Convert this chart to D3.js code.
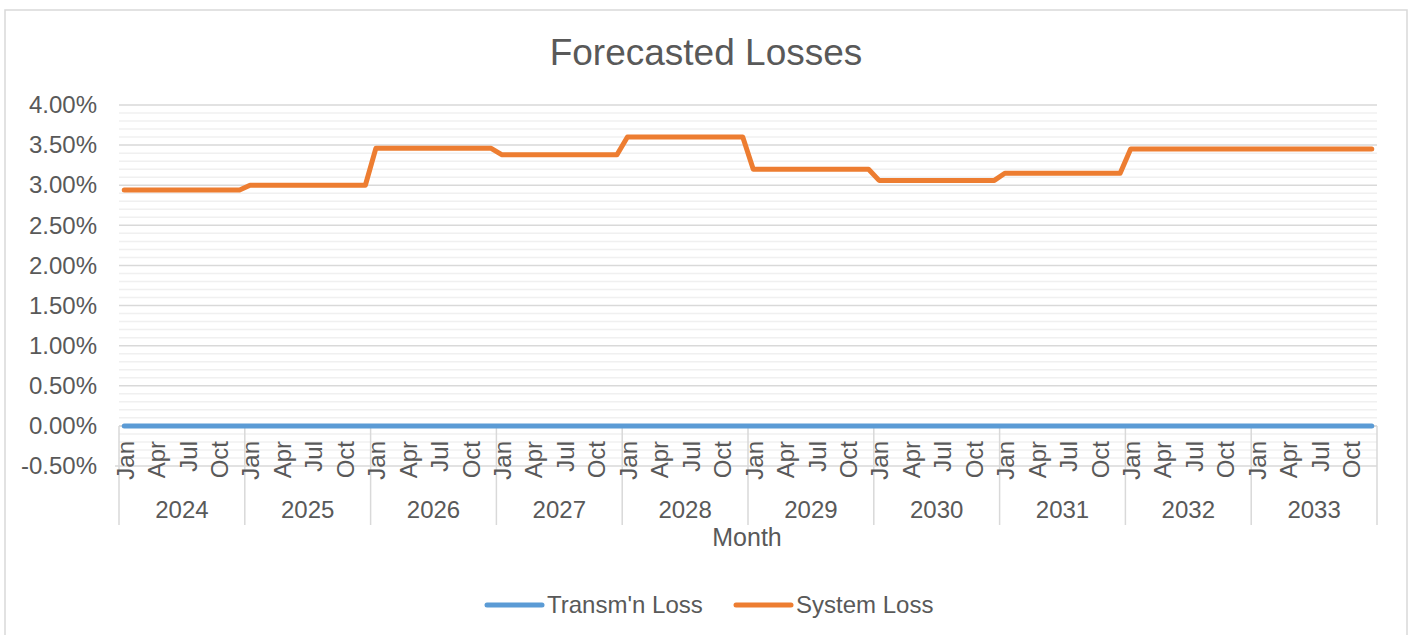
<!DOCTYPE html>
<html>
<head>
<meta charset="utf-8">
<script src="https://cdn.jsdelivr.net/npm/d3@7"></script>
<style>
  body { margin: 0; background: #fff; }
  svg { display: block; font-family: "Liberation Sans", Arial, sans-serif; }
</style>
</head>
<body>
<svg id="chart"></svg>
<script>
// forecasted losses, monthly, 2024 - 2033

var width = 1411,
    height = 635;

var years = [2024, 2025, 2026, 2027, 2028, 2029, 2030, 2031, 2032, 2033];
var months = ["Jan","Feb","Mar","Apr","May","Jun","Jul","Aug","Sep","Oct","Nov","Dec"];
var shownMonths = ["Jan","Apr","Jul","Oct"];
var yTicks = [-0.005, 0, 0.005, 0.01, 0.015, 0.02, 0.025, 0.03, 0.035, 0.04];

// one row per year, one value per month
var transmLoss = [
  [0,0,0,0,0,0,0,0,0,0,0,0],
  [0,0,0,0,0,0,0,0,0,0,0,0],
  [0,0,0,0,0,0,0,0,0,0,0,0],
  [0,0,0,0,0,0,0,0,0,0,0,0],
  [0,0,0,0,0,0,0,0,0,0,0,0],
  [0,0,0,0,0,0,0,0,0,0,0,0],
  [0,0,0,0,0,0,0,0,0,0,0,0],
  [0,0,0,0,0,0,0,0,0,0,0,0],
  [0,0,0,0,0,0,0,0,0,0,0,0],
  [0,0,0,0,0,0,0,0,0,0,0,0]
];
var systemLoss = [
  [.0294,.0294,.0294,.0294,.0294,.0294,.0294,.0294,.0294,.0294,.0294,.0294],
  [.0300,.0300,.0300,.0300,.0300,.0300,.0300,.0300,.0300,.0300,.0300,.0300],
  [.0346,.0346,.0346,.0346,.0346,.0346,.0346,.0346,.0346,.0346,.0346,.0346],
  [.0338,.0338,.0338,.0338,.0338,.0338,.0338,.0338,.0338,.0338,.0338,.0338],
  [.0360,.0360,.0360,.0360,.0360,.0360,.0360,.0360,.0360,.0360,.0360,.0360],
  [.0320,.0320,.0320,.0320,.0320,.0320,.0320,.0320,.0320,.0320,.0320,.0320],
  [.0306,.0306,.0306,.0306,.0306,.0306,.0306,.0306,.0306,.0306,.0306,.0306],
  [.0315,.0315,.0315,.0315,.0315,.0315,.0315,.0315,.0315,.0315,.0315,.0315],
  [.0345,.0345,.0345,.0345,.0345,.0345,.0345,.0345,.0345,.0345,.0345,.0345],
  [.0345,.0345,.0345,.0345,.0345,.0345,.0345,.0345,.0345,.0345,.0345,.0345]
];

var seriesNames = ["Transm'n Loss", "System Loss"];
var seriesColors = ["#5b9bd5", "#ed7d31"];

var textColor = "#595959";
var plot = { left: 119, right: 1377, top: 105, bottom: 466 };

// flat list of categories (year, month)
var cats = [];
years.forEach(function(y) {
  months.forEach(function(m) { cats.push(y + "-" + m); });
});

var series = [transmLoss, systemLoss].map(function(rows, s) {
  var vals = [].concat.apply([], rows);
  return { name: seriesNames[s], color: seriesColors[s],
           values: vals.map(function(v, i) { return { cat: cats[i], v: v }; }) };
});

var svg = d3.select("#chart")
  .attr("width", width)
  .attr("height", height);

// chart border
svg.append("rect")
  .attr("x", 5).attr("y", 10)
  .attr("width", 1402).attr("height", 640)
  .attr("fill", "#fff")
  .attr("stroke", "#d9d9d9")
  .attr("stroke-width", 1.5);

// title
svg.append("text")
  .attr("x", 706).attr("y", 65)
  .attr("text-anchor", "middle")
  .style("font-size", "37px")
  .attr("fill", textColor)
  .text("Forecasted Losses");

var x = d3.scaleBand()
  .domain(cats)
  .range([plot.left, plot.right]);

var y = d3.scaleLinear()
  .domain([-0.005, 0.04])
  .range([plot.bottom, plot.top]);

// minor gridlines every 0.1%
var minor = d3.range(-5, 41).map(function(k) { return k / 1000; })
  .filter(function(v) { return Math.round(v * 1000) % 5 !== 0; });

svg.append("g")
  .selectAll("line")
  .data(minor)
  .enter().append("line")
    .attr("x1", plot.left).attr("x2", plot.right)
    .attr("y1", d => y(d)).attr("y2", d => y(d))
    .attr("stroke", "#f0f0f0")
    .attr("stroke-width", 1.5);

// major gridlines
svg.append("g")
  .selectAll("line")
  .data(yTicks)
  .enter().append("line")
    .attr("x1", d => d === -0.005 ? plot.left - 4 : plot.left).attr("x2", plot.right)
    .attr("y1", d => y(d)).attr("y2", d => y(d))
    .attr("stroke", "#d9d9d9")
    .attr("stroke-width", 1.5);

// y axis labels, plain hyphen for negatives like excel
var pct = d3.format(".2%");
var yAxis = d3.axisLeft(y)
  .tickValues(yTicks)
  .tickFormat(d => pct(d).replace("\u2212", "-"))
  .tickSize(0)
  .tickPadding(22);

var yg = svg.append("g")
  .attr("transform", "translate(" + plot.left + ",0)")
  .call(yAxis);
yg.select(".domain").remove();
yg.selectAll("text")
  .attr("fill", textColor)
  .style("font-size", "24px")
  .style("font-family", "'Liberation Sans', Arial, sans-serif");

// horizontal axis at zero
svg.append("line")
  .attr("x1", plot.left).attr("x2", plot.right)
  .attr("y1", y(0)).attr("y2", y(0))
  .attr("stroke", "#d9d9d9")
  .attr("stroke-width", 1.5);

// year separators
var yearW = x.step() * months.length;
svg.append("g")
  .selectAll("line")
  .data(d3.range(years.length + 1))
  .enter().append("line")
    .attr("x1", k => plot.left + k * yearW)
    .attr("x2", k => plot.left + k * yearW)
    .attr("y1", y(0)).attr("y2", 525)
    .attr("stroke", "#d9d9d9")
    .attr("stroke-width", 1.5);

// month labels (rotated)
var monthLabels = cats.filter(function(c) {
  return shownMonths.indexOf(c.split("-")[1]) >= 0;
});
svg.append("g")
  .selectAll("text")
  .data(monthLabels)
  .enter().append("text")
    .attr("transform", d => "translate(" + (x(d) + x.bandwidth() / 2 + 1) + ",441) rotate(-90)")
    .attr("text-anchor", "end")
    .attr("dy", "0.35em")
    .style("font-size", "24px")
    .attr("fill", textColor)
    .text(d => d.split("-")[1]);

// year labels
svg.append("g")
  .selectAll("text")
  .data(years)
  .enter().append("text")
    .attr("x", (d, i) => plot.left + (i + 0.5) * yearW)
    .attr("y", 510)
    .attr("dy", "0.35em")
    .attr("text-anchor", "middle")
    .style("font-size", "24px")
    .attr("fill", textColor)
    .text(d => d);

// axis title
svg.append("text")
  .attr("x", 747).attr("y", 537)
  .attr("dy", "0.35em")
  .attr("text-anchor", "middle")
  .style("font-size", "25px")
  .attr("fill", textColor)
  .text("Month");

// lines
var line = d3.line()
  .x(d => x(d.cat) + x.bandwidth() / 2)
  .y(d => y(d.v));

svg.append("g")
  .selectAll("path")
  .data(series)
  .enter().append("path")
    .attr("d", d => line(d.values))
    .attr("fill", "none")
    .attr("stroke", d => d.color)
    .attr("stroke-width", 5)
    .attr("stroke-linejoin", "round")
    .attr("stroke-linecap", "round");

// legend
var legendPos = [{ x1: 487, x2: 542 }, { x1: 736, x2: 791 }];
var lg = svg.append("g")
  .selectAll("g")
  .data(series)
  .enter().append("g");
lg.append("line")
  .attr("x1", (d, i) => legendPos[i].x1)
  .attr("x2", (d, i) => legendPos[i].x2)
  .attr("y1", 605).attr("y2", 605)
  .attr("stroke", d => d.color)
  .attr("stroke-width", 5)
  .attr("stroke-linecap", "round");
lg.append("text")
  .attr("x", (d, i) => legendPos[i].x2 + 5)
  .attr("y", 605)
  .attr("dy", "0.35em")
  .style("font-size", "24px")
  .attr("fill", textColor)
  .text(d => d.name);
</script>
</body>
</html>
